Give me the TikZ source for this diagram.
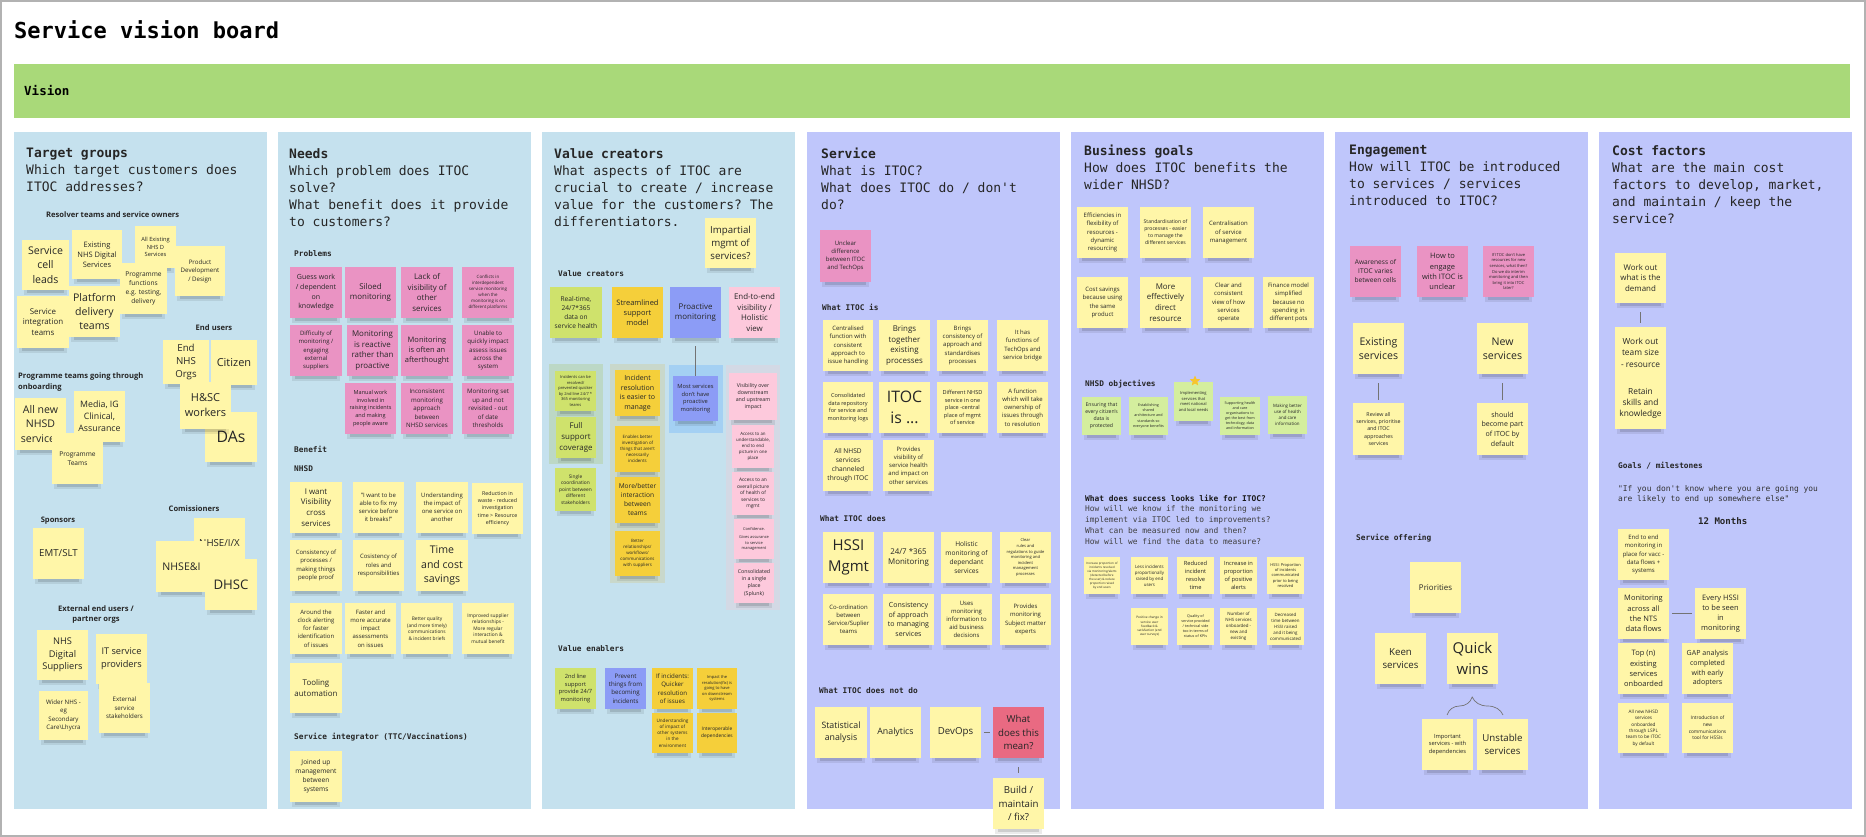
\documentclass[tikz,border=0pt]{standalone}
\usepackage{fontspec}
\setmainfont{Open Sans}
\setmonofont{DejaVu Sans Mono}
\usetikzlibrary{shapes.geometric,decorations.pathreplacing}
\definecolor{panB}{HTML}{C5E1EE}
\definecolor{panL}{HTML}{BFC6FB}
\definecolor{visG}{HTML}{A9D979}
\definecolor{cYel}{HTML}{FFF6A8}
\definecolor{cPnk}{HTML}{EA93C3}
\definecolor{cLime}{HTML}{CFE26C}
\definecolor{cGold}{HTML}{F5CF3A}
\definecolor{cBlu}{HTML}{8C9CF6}
\definecolor{cLpk}{HTML}{FDC9DC}
\definecolor{cRed}{HTML}{E96A82}
\definecolor{cLgr}{HTML}{D4EE9E}
\definecolor{cStar}{HTML}{F7C52D}
\definecolor{grG}{HTML}{BCD8C6}
\definecolor{grO}{HTML}{C9D8CB}
\definecolor{grB}{HTML}{A4D0F3}
\definecolor{grP}{HTML}{D3D9E5}
\tikzset{
  stickyn/.style={inner sep=0pt,align=center,text=black!85},
  hd/.style={anchor=north west,align=left,inner sep=0pt,text=black!85,font=\ttfamily\fontsize{13}{17}\selectfont},
  mlab/.style={anchor=west,inner sep=0pt,text=black!85,font=\ttfamily\bfseries\fontsize{7.8}{10}\selectfont},
  slab/.style={inner sep=0pt,text=black!85,font=\bfseries\fontsize{7.6}{10.8}\selectfont},
  conn/.style={draw=black!55,line width=0.8pt},
  panelB/.style={fill=panB},
  panelL/.style={fill=panL},
}
\newcommand\stknote[8]{%
  \fill[black,opacity=0.08] ({#3+2},{#6-1}) rectangle ({#5-2},{#6+5});
  \fill[black,opacity=0.12] ({#3+5},{#6-1}) rectangle ({#5-5},{#6+3});
  \node[stickyn,fill=#2,minimum width={(#5-#3)*1pt},minimum height={(#6-#4)*1pt},
    font=\fontsize{\dimexpr #7pt*88/100\relax}{\dimexpr #7pt*12/10\relax}\selectfont]
    (#1) at ({(#3+#5)/2},{(#4+#6)/2}) {#8};}
\begin{document}
\begin{tikzpicture}[x=1pt,y=-1pt]
\useasboundingbox (0,0) rectangle (1866,837);
\fill[white] (0,0) rectangle (1866,837);
\draw[black!30,line width=1.5pt] (1,1) rectangle (1865,836);
% title and vision bar
\node[anchor=west,inner sep=0pt,font=\ttfamily\bfseries\fontsize{22}{26}\selectfont] (title) at (14,30) {Service vision board};
\fill[visG] (14,64) rectangle (1850,118);
\node[anchor=west,inner sep=0pt,font=\ttfamily\bfseries\fontsize{12.5}{15}\selectfont] (vis) at (24,91) {Vision};
% panels
\fill[panelB] (14,132) rectangle (267,809);
\fill[panelB] (278,132) rectangle (531,809);
\fill[panelB] (542,132) rectangle (795,809);
\fill[panelL] (807,132) rectangle (1060,809);
\fill[panelL] (1071,132) rectangle (1324,809);
\fill[panelL] (1335,132) rectangle (1588,809);
\fill[panelL] (1599,132) rectangle (1852,809);
% headings (first baseline = y + 11.9)
\node[hd] (h1) at (26,145.8) {\strut\textbf{Target groups}\\Which target customers does\\ITOC addresses?};
\node[hd] (h2) at (289,146.5) {\strut\textbf{Needs}\\Which problem does ITOC\\solve?\\What benefit does it provide\\to customers?};
\node[hd] (h3) at (554,146.5) {\strut\textbf{Value creators}\\What aspects of ITOC are\\crucial to create / increase\\value for the customers? The\\differentiators.};
\node[hd] (h4) at (821,146.5) {\strut\textbf{Service}\\What is ITOC?\\What does ITOC do / don't\\do?};
\node[hd] (h5) at (1084,143.1) {\strut\textbf{Business goals}\\How does ITOC benefits the\\wider NHSD?};
\node[hd] (h6) at (1349,142.8) {\strut\textbf{Engagement}\\How will ITOC be introduced\\to services / services\\introduced to ITOC?};
\node[hd] (h7) at (1612,143.8) {\strut\textbf{Cost factors}\\What are the main cost\\factors to develop, market,\\and maintain / keep the\\service?};
% ---------- column 1
\node[slab,anchor=west] (l11) at (46,215) {Resolver teams and service owners};
\stknote{t1}{cYel}{22}{240}{69}{290}{12}{Service\\cell\\leads}
\stknote{t2}{cYel}{72}{230}{122}{279}{8.5}{Existing\\NHS Digital\\Services}
\stknote{t3}{cYel}{135}{226}{176}{268}{6.5}{All Existing\\NHS D\\Services}
\stknote{t4}{cYel}{175}{246}{225}{296}{7}{Product\\Development\\/ Design}
\stknote{t5}{cYel}{120}{263}{167}{314}{7.5}{Programme\\functions\\e.g. testing,\\delivery}
\stknote{t6}{cYel}{69}{286}{120}{337}{12}{Platform\\delivery\\teams}
\stknote{t7}{cYel}{17}{296}{69}{348}{9}{Service\\integration\\teams}
\node[slab] (l12) at (214,328) {End users};
\stknote{t8}{cYel}{163}{340}{209}{384}{11}{End\\NHS\\Orgs}
\stknote{t9}{cYel}{211}{340}{257}{385}{12.5}{Citizen}
\stknote{t11}{cYel}{205}{412}{257}{462}{18}{DAs}
\stknote{t10}{cYel}{180}{382}{231}{429}{12.5}{H\&SC\\workers}
\node[slab,anchor=north west,align=left] (l13) at (18,370.9) {\strut Programme teams going through\\onboarding};
\stknote{t12}{cYel}{15}{398}{66}{450}{12}{All new\\NHSD\\services}
\stknote{t13}{cYel}{74}{391}{125}{442}{10}{Media, IG\\Clinical,\\Assurance}
\stknote{t14}{cYel}{52}{433}{103}{484}{7.5}{Programme\\Teams}
\node[slab] (l14) at (58,521) {Sponsors};
\stknote{t15}{cYel}{33}{528}{84}{579}{11}{EMT/SLT}
\node[slab] (l15) at (194,509) {Comissioners};
\stknote{t16}{cYel}{194}{518}{245}{568}{11}{NHSE/I/X}
\stknote{t17}{cYel}{156}{541}{207}{592}{12}{NHSE\&I}
\stknote{t18}{cYel}{205}{559}{257}{610}{15}{DHSC}
\node[slab,anchor=north,align=center] (l16) at (96,603.4) {\strut External end users /\\partner orgs};
\stknote{t19}{cYel}{37}{630}{88}{680}{10.5}{NHS\\Digital\\Suppliers}
\stknote{t20}{cYel}{96}{634}{147}{684}{10.5}{IT service\\providers}
\stknote{t21}{cYel}{39}{691}{88}{740}{7}{Wider NHS -\\eg\\Secondary\\Care\textbackslash Lhycra}
\stknote{t22}{cYel}{99}{683}{150}{733}{7}{External\\service\\stakeholders}
% ---------- column 2
\node[mlab] (l21) at (294,254) {Problems};
\stknote{p1}{cPnk}{290}{267}{342}{318}{8}{Guess work\\/ dependent\\on\\knowledge}
\stknote{p2}{cPnk}{345}{267}{396}{318}{9}{Siloed\\monitoring}
\stknote{p3}{cPnk}{401}{267}{453}{318}{9}{Lack of\\visibility of\\other\\services}
\stknote{p4}{cPnk}{462}{267}{514}{318}{5}{Conflicts in\\interdependent\\service monitoring\\when the\\monitoring is on\\different platforms}
\stknote{p5}{cPnk}{290}{325}{342}{376}{6.8}{Difficulty of\\monitoring /\\engaging\\external\\suppliers}
\stknote{p6}{cPnk}{347}{325}{398}{376}{9}{Monitoring\\is reactive\\rather than\\proactive}
\stknote{p7}{cPnk}{401}{325}{453}{376}{8.5}{Monitoring\\is often an\\afterthought}
\stknote{p8}{cPnk}{462}{325}{514}{376}{7}{Unable to\\quickly impact\\assess issues\\across the\\system}
\stknote{p9}{cPnk}{345}{383}{396}{434}{6.3}{Manual work\\involved in\\raising incidents\\and making\\people aware}
\stknote{p10}{cPnk}{401}{383}{453}{434}{7}{Inconsistent\\monitoring\\approach\\between\\NHSD services}
\stknote{p11}{cPnk}{462}{383}{514}{434}{7}{Monitoring set\\up and not\\revisited - out\\of date\\thresholds}
\node[mlab] (l22) at (294,449) {Benefit};
\node[mlab] (l23) at (294,469) {NHSD};
\stknote{b1}{cYel}{290}{482}{342}{533}{9}{I want\\Visibility\\cross\\services}
\stknote{b2}{cYel}{353}{482}{404}{533}{6.8}{"I want to be\\able to fix my\\service before\\it breaks!"}
\stknote{b3}{cYel}{416}{482}{468}{533}{6.8}{Understanding\\the impact of\\one service on\\another}
\stknote{b4}{cYel}{472}{483}{523}{534}{6}{Reduction in\\waste - reduced\\investigation\\time > Resource\\efficiency}
\stknote{b5}{cYel}{290}{540}{342}{591}{6.8}{Consistency of\\processes /\\making things\\people proof}
\stknote{b6}{cYel}{353}{540}{404}{591}{6.8}{Cosistency of\\roles and\\responsibilities}
\stknote{b7}{cYel}{416}{540}{468}{591}{12}{Time\\and cost\\savings}
\stknote{b8}{cYel}{290}{603}{342}{654}{6.8}{Around the\\clock alerting\\for faster\\identification\\of issues}
\stknote{b9}{cYel}{345}{603}{396}{654}{6.8}{Faster and\\more accurate\\impact\\assessments\\on issues}
\stknote{b10}{cYel}{401}{603}{453}{654}{5.5}{Better quality\\(and more timely)\\communications\\\& incident briefs}
\stknote{b11}{cYel}{462}{603}{514}{654}{5.5}{Improved supplier\\relationships -\\More regular\\interaction \&\\mutual benefit}
\stknote{b12}{cYel}{290}{663}{342}{713}{9}{Tooling\\automation}
\node[mlab] (l24) at (294,737) {Service integrator (TTC/Vaccinations)};
\stknote{b13}{cYel}{290}{751}{342}{802}{7.5}{Joined up\\management\\between\\systems}
% ---------- column 3
\stknote{v0}{cYel}{705}{218}{756}{268}{11}{Impartial\\mgmt of\\services?}
\node[mlab] (l31) at (558,274) {Value creators};
\stknote{v1}{cLime}{550}{287}{602}{338}{7.5}{Real-time,\\24/7*365\\data on\\service health}
\stknote{v2}{cGold}{612}{287}{663}{338}{8.5}{Streamlined\\support\\model}
\stknote{v3}{cBlu}{670}{287}{721}{338}{9}{Proactive\\monitoring}
\stknote{v4}{cLpk}{729}{287}{780}{338}{9}{End-to-end\\visibility /\\Holistic\\view}
\fill[grG] (549,364) rectangle (603,464);
\fill[grO] (610,364) rectangle (665,583);
\fill[grB] (669,365) rectangle (723,433);
\fill[grP] (726,365) rectangle (780,610);
\stknote{g1a}{cLime}{555}{371}{596}{411}{4.6}{Incidents can be\\resolved/\\prevented quicker\\by 2nd line 24/7 *\\365 monitoring\\teams}
\stknote{g1b}{cLime}{556}{417}{596}{458}{9}{Full\\support\\coverage}
\stknote{g1c}{cLime}{555}{468}{596}{511}{5.5}{Single\\coordination\\point between\\different\\stakeholders}
\stknote{g2a}{cGold}{615}{370}{660}{416}{8}{Incident\\resolution\\is easier to\\manage}
\stknote{g2b}{cGold}{615}{426}{660}{472}{5}{Enables better\\investigation of\\things that aren't\\necessarily\\incidents}
\stknote{g2c}{cGold}{615}{477}{660}{523}{7.5}{More/better\\interaction\\between\\teams}
\stknote{g2d}{cGold}{615}{531}{660}{576}{5}{Better\\relationships/\\workflows/\\communications\\with suppliers}
\stknote{v5}{cBlu}{673}{376}{718}{421}{6.5}{Most services\\don't have\\proactive\\monitoring}
\stknote{g4a}{cLpk}{729}{373}{777}{420}{6}{Visibility over\\downstream\\and upstream\\impact}
\stknote{g4b}{cLpk}{732}{425}{774}{468}{5}{Access to an\\understandable,\\end to end\\picture in one\\place}
\stknote{g4c}{cLpk}{732}{472}{774}{515}{5.5}{Access to an\\overall picture\\of health of\\services to\\mgmt}
\stknote{g4d}{cLpk}{734}{519}{774}{559}{4.5}{Confidence.\\[3pt]Gives assurance\\to service\\management}
\stknote{g4e}{cLpk}{734}{563}{774}{603}{6}{Consolidated\\in a single\\place\\(Splunk)}
\draw[conn,shorten <=8pt] (v3.south) -- (v5.north);
\node[mlab] (l32) at (558,649) {Value enablers};
\stknote{e1}{cLime}{555}{668}{596}{709}{6.5}{2nd line\\support\\provide 24/7\\monitoring}
\stknote{e2}{cBlu}{605}{668}{646}{709}{7}{Prevent\\things from\\becoming\\incidents}
\stknote{e3}{cGold}{652}{668}{693}{709}{7}{If incidents:\\Quicker\\resolution\\of issues}
\stknote{e4}{cGold}{697}{668}{737}{709}{4.6}{Impact the\\resolution(fix) is\\going to have\\on downstream\\systems}
\stknote{e5}{cGold}{652}{713}{693}{753}{5.2}{Understanding\\of impact of\\other systems\\in the\\environment}
\stknote{e6}{cGold}{697}{713}{737}{753}{5.5}{Interoperable\\dependencies}
% ---------- column 4
\stknote{s0}{cPnk}{820}{230}{871}{282}{6.8}{Unclear\\difference\\between ITOC\\and TechOps}
\node[mlab] (l41) at (822,307) {What ITOC is};
\stknote{s1}{cYel}{823}{320}{873}{371}{6.8}{Centralised\\function with\\consistent\\approach to\\issue handling}
\stknote{s2}{cYel}{879}{320}{930}{371}{9}{Brings\\together\\existing\\processes}
\stknote{s3}{cYel}{937}{320}{988}{371}{6.8}{Brings\\consistency of\\approach and\\standardises\\processes}
\stknote{s4}{cYel}{997}{320}{1048}{371}{6.8}{It has\\functions of\\TechOps and\\service bridge}
\stknote{s5}{cYel}{823}{382}{873}{433}{6.3}{Consolidated\\data repository\\for service and\\monitoring logs}
\stknote{s6}{cYel}{879}{382}{930}{433}{18}{ITOC\\is ...}
\stknote{s7}{cYel}{937}{382}{988}{433}{6.3}{Different NHSD\\service in one\\place -central\\place of mgmt\\of service}
\stknote{s8}{cYel}{997}{382}{1048}{433}{6.8}{A function\\which will take\\ownership of\\issues through\\to resolution}
\stknote{s9}{cYel}{823}{440}{873}{491}{7.5}{All NHSD\\services\\channeled\\through ITOC}
\stknote{s10}{cYel}{883}{440}{934}{491}{6.8}{Provides\\visibility of\\service health\\and impact on\\other services}
\node[mlab] (l42) at (820,519) {What ITOC does};
\stknote{d1}{cYel}{823}{532}{874}{583}{17}{HSSI\\Mgmt}
\stknote{d2}{cYel}{883}{532}{934}{583}{9}{24/7 *365\\Monitoring}
\stknote{d3}{cYel}{941}{532}{992}{583}{7.5}{Holistic\\monitoring of\\dependant\\services}
\stknote{d4}{cYel}{1000}{532}{1051}{583}{4.6}{Clear\\rules and\\regulations to guide\\monitoring and\\incident\\management\\processes}
\stknote{d5}{cYel}{823}{594}{874}{645}{6.8}{Co-ordination\\between\\Service/Suplier\\teams}
\stknote{d6}{cYel}{883}{594}{934}{645}{8}{Consistency\\of approach\\to managing\\services}
\stknote{d7}{cYel}{941}{594}{992}{645}{6.8}{Uses\\monitoring\\information to\\aid business\\decisions}
\stknote{d8}{cYel}{1000}{594}{1051}{645}{6.8}{Provides\\monitoring\\Subject matter\\experts}
\node[mlab] (l43) at (819,691) {What ITOC does not do};
\stknote{n1}{cYel}{815}{707}{867}{758}{10}{Statistical\\analysis}
\stknote{n2}{cYel}{870}{707}{921}{758}{10}{Analytics}
\stknote{n3}{cYel}{930}{707}{981}{758}{11}{DevOps}
\stknote{n4}{cRed}{993}{707}{1044}{758}{11}{What\\does this\\mean?}
\stknote{n5}{cYel}{993}{778}{1044}{829}{11}{Build /\\maintain\\/ fix?}
\draw[conn,shorten <=3pt,shorten >=3pt] (n3.east) -- (n4.west);
\draw[conn,shorten <=9pt,shorten >=5pt] (n4.south) -- (n5.north);
% ---------- column 5
\stknote{bg1}{cYel}{1077}{207}{1128}{258}{6.8}{Efficiencies in\\flexibility of\\resources -\\dynamic\\resourcing}
\stknote{bg2}{cYel}{1140}{207}{1191}{258}{5.8}{Standardisation of\\processes - easier\\to manage the\\different services}
\stknote{bg3}{cYel}{1203}{207}{1254}{258}{6.8}{Centralisation\\of service\\management}
\stknote{bg4}{cYel}{1077}{277}{1128}{328}{6.8}{Cost savings\\because using\\the same\\product}
\stknote{bg5}{cYel}{1140}{277}{1191}{328}{9}{More\\effectively\\direct\\resource}
\stknote{bg6}{cYel}{1203}{277}{1254}{328}{6.8}{Clear and\\consistent\\view of how\\services\\operate}
\stknote{bg7}{cYel}{1263}{277}{1314}{328}{6.8}{Finance model\\simplified\\because no\\spending in\\different pots}
\node[mlab] (l51) at (1085,384) {NHSD objectives};
\stknote{o1}{cLgr}{1082}{397}{1121}{435}{5.8}{Ensuring that\\every citizen's\\data is\\protected}
\stknote{o2}{cLgr}{1129}{397}{1168}{435}{4.2}{Establishing\\shared\\architecture and\\standards so\\everyone benefits}
\stknote{o3}{cLgr}{1174}{382}{1213}{421}{4.6}{Implementing\\services that\\meet national\\and local needs}
\stknote{o4}{cLgr}{1220}{397}{1260}{435}{4.2}{Supporting health\\and care\\organisations to\\get the best from\\technology, data\\and information}
\stknote{o5}{cLgr}{1268}{396}{1307}{434}{5}{Making better\\use of health\\and care\\information}
\node[star,star points=5,star point ratio=2.2,fill=cStar,inner sep=0pt,minimum size=11pt] (star) at (1195,381) {};
\node[anchor=north west,align=left,inner sep=0pt,text=black!75,font=\ttfamily\fontsize{7.9}{10.75}\selectfont] (l52) at (1085,493.3)
  {\strut\textbf{\color{black!90}What does success looks like for ITOC?}\\How will we know if the monitoring we\\implement via ITOC led to improvements?\\What can be measured now and then?\\How will we find the data to measure?};
\stknote{sc1}{cYel}{1084}{557}{1120}{594}{3.4}{Increase proportion of\\incidents resolved\\via monitoring/alerts\\(detected before\\the user) \& reduce\\proportion raised\\by end users}
\stknote{sc2}{cYel}{1131}{557}{1168}{594}{5}{Less incidents\\proportionally\\raised by end\\users}
\stknote{sc3}{cYel}{1177}{557}{1214}{594}{6.5}{Reduced\\incident\\resolve\\time}
\stknote{sc4}{cYel}{1220}{557}{1257}{594}{6.5}{Increase in\\proportion\\of positive\\alerts}
\stknote{sc5}{cYel}{1267}{557}{1304}{594}{4.5}{HSSI: Proportion\\of incidents\\communicated\\prior to being\\resolved}
\stknote{sc6}{cYel}{1131}{608}{1168}{645}{3.6}{Positive change in\\service user\\feedback \&\\satisfaction (end\\user surveys)}
\stknote{sc7}{cYel}{1177}{608}{1214}{645}{4.2}{Quality of\\service provided\\/ technical side\\too in terms of\\status of KPIs}
\stknote{sc8}{cYel}{1220}{608}{1257}{645}{5}{Number of\\NHS services\\onboarded -\\new and\\existing}
\stknote{sc9}{cYel}{1267}{608}{1304}{645}{5}{Decreased\\time between\\HSSI raised\\and it being\\communicated}
% ---------- column 6
\stknote{en1}{cPnk}{1350}{246}{1401}{297}{7.5}{Awareness of\\ITOC varies\\between cells}
\stknote{en2}{cPnk}{1417}{246}{1468}{297}{8.5}{How to\\engage\\with ITOC is\\unclear}
\stknote{en3}{cPnk}{1483}{246}{1534}{297}{4.6}{If ITOC don't have\\resources for new\\services, what then?\\Do we do interim\\monitoring and then\\bring it into ITOC\\later?}
\stknote{en4}{cYel}{1353}{323}{1404}{374}{12}{Existing\\services}
\stknote{en5}{cYel}{1477}{323}{1528}{374}{12}{New\\services}
\stknote{en6}{cYel}{1353}{403}{1404}{455}{6}{Review all\\services, prioritise\\and ITOC\\approaches\\services}
\stknote{en7}{cYel}{1477}{403}{1528}{455}{8}{should\\become part\\of ITOC by\\default}
\draw[conn,shorten <=9pt,shorten >=3pt] (en4.south) -- (en6.north);
\draw[conn,shorten <=9pt,shorten >=3pt] (en5.south) -- (en7.north);
\node[mlab] (l61) at (1356,538) {Service offering};
\stknote{en8}{cYel}{1410}{562}{1461}{613}{9}{Priorities}
\stknote{en9}{cYel}{1375}{633}{1426}{684}{11}{Keen\\services}
\stknote{en10}{cYel}{1447}{633}{1498}{684}{17}{Quick\\wins}
\draw[conn,line width=0.7pt,decorate,decoration={brace,amplitude=18pt,aspect=0.45}] (1447,715) -- (1503,715);
\stknote{en11}{cYel}{1422}{719}{1473}{770}{6.5}{Important\\services - with\\dependencies}
\stknote{en12}{cYel}{1477}{719}{1528}{770}{11}{Unstable\\services}
% ---------- column 7
\stknote{c1}{cYel}{1615}{253}{1666}{303}{9}{Work out\\what is the\\demand}
\stknote{c2}{cYel}{1615}{327}{1666}{378}{9.5}{Work out\\team size\\- resource}
\stknote{c3}{cYel}{1615}{378}{1666}{429}{9.5}{Retain\\skills and\\knowledge}
\draw[conn,shorten <=9pt,shorten >=4pt] (c1.south) -- (c2.north);
\node[mlab] (l71) at (1618,466) {Goals / milestones};
\node[anchor=north west,align=left,inner sep=0pt,text=black!80,font=\ttfamily\fontsize{7.9}{10.7}\selectfont] (l72) at (1618,483.6)
  {\strut"If you don't know where you are going you\\are likely to end up somewhere else"};
\node[inner sep=0pt,text=black!85,font=\ttfamily\bfseries\fontsize{9.1}{11}\selectfont] (l73) at (1722.7,520.7) {12 Months};
\stknote{m1}{cYel}{1618}{529}{1669}{580}{6.8}{End to end\\monitoring in\\place for vacc -\\data flows +\\systems}
\stknote{m2}{cYel}{1618}{588}{1669}{639}{8.5}{Monitoring\\across all\\the NTS\\data flows}
\stknote{m3}{cYel}{1695}{588}{1746}{639}{8.5}{Every HSSI\\to be seen\\in\\monitoring}
\draw[conn,shorten <=3pt,shorten >=3pt] (m2.east) -- (m3.west);
\stknote{m4}{cYel}{1618}{643}{1669}{694}{8.5}{Top (n)\\existing\\services\\onboarded}
\stknote{m5}{cYel}{1682}{643}{1733}{694}{8}{GAP analysis\\completed\\with early\\adopters}
\stknote{m6}{cYel}{1618}{703}{1669}{753}{5.3}{All new NHSD\\services\\onboarded\\through LSPL\\team to be ITOC\\by default}
\stknote{m7}{cYel}{1682}{703}{1733}{753}{5.5}{Introduction of\\new\\communications\\tool for HSSIs}
\end{tikzpicture}
\end{document}
